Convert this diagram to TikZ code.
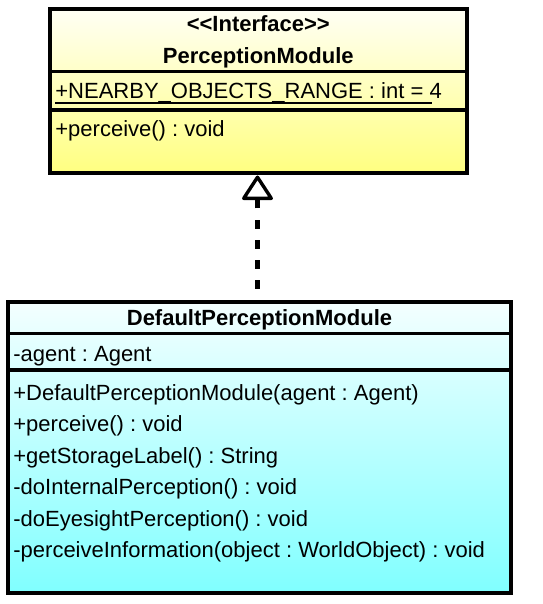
\documentclass[tikz,border=0pt]{standalone}
\usepackage{fontspec}
\setmainfont{Liberation Sans}
\usetikzlibrary{arrows.meta,positioning,calc,fit}
\definecolor{ifctop}{HTML}{FFFFF4}
\definecolor{ifcbot}{HTML}{FFFF80}
\definecolor{clstop}{HTML}{F4FFFF}
\definecolor{clsbot}{HTML}{80FFFF}
\tikzset{
  classbox/.style={draw=black, line width=2pt, top color=#1top, bottom color=#1bot, inner sep=0pt},
  compsep/.style={line width=1.8pt},
  classname/.style={font=\fontsize{11}{13}\selectfont\bfseries, inner sep=0pt, anchor=base},
  member/.style={font=\fontsize{11}{13}\selectfont, inner sep=0pt, anchor=base west},
  realize/.style={-{Triangle[open, round, length=13pt, width=16.5pt, line width=1.7pt]},
               line width=2.2pt, dash pattern=on 4.5pt off 5.5pt, dash phase=4.5pt},
}
\frenchspacing
\begin{document}
\begin{tikzpicture}[x=0.5pt, y=-0.5pt]
  \useasboundingbox (0,0) rectangle (542,604);
  % interface
  \node[classbox=ifc, fit={(50,9.5) (466.5,173.5)}] (iface) {};
  \draw[compsep] (iface.west |- 0,71.5) -- (iface.east |- 0,71.5);
  \draw[compsep] (iface.west |- 0,110) -- (iface.east |- 0,110);
  \node[classname] (ifcster) at (258.3,32) {<\kern0pt<Interface>\kern0pt>};
  \node[classname] (ifcname) at (258.3,64) {PerceptionModule};
  \node[member] (ifcattr) at (55,99) {+NEARBY\_OBJECTS\_RANGE : int = 4};
  \draw[line width=1.2pt] ($(ifcattr.base west)+(0,4)$) -- ($(ifcattr.base west)+(377,4)$);
  \node[member] (ifcop) at (55,137) {+perceive() : void};
  % implementation
  \node[classbox=cls, fit={(8,301.5) (511,592.5)}] (impl) {};
  \draw[compsep] (impl.west |- 0,333.5) -- (impl.east |- 0,333.5);
  \draw[compsep] (impl.west |- 0,370) -- (impl.east |- 0,370);
  \node[classname] (implname) at (259.5,325) {DefaultPerceptionModule};
  \node[member] (implattr) at (13,361) {-agent : Agent};
  \node[member] (op1) at (13,400) {+DefaultPerceptionModule(agent : Agent)};
  \node[member] (op2) at (13,431.5) {+perceive() : void};
  \node[member] (op3) at (13,463) {+getStorageLabel() : String};
  \node[member] (op4) at (13,494.5) {-doInternalPerception() : void};
  \node[member] (op5) at (13,526) {-doEyesightPerception() : void};
  \node[member] (op6) at (13,557.5) {-perceiveInformation(object : WorldObject) : void};
  % realization
  \draw[realize] ([xshift=-1pt]impl.north) -- ([xshift=-1pt]impl.north |- iface.south);
\end{tikzpicture}
\end{document}
